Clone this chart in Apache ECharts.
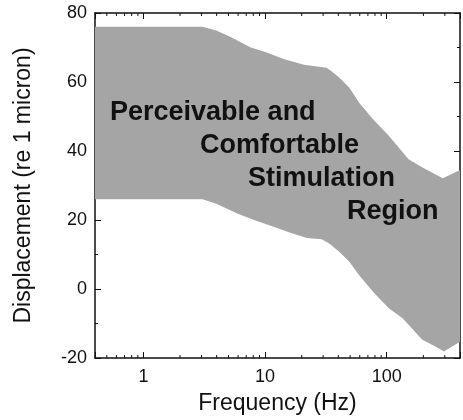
<!DOCTYPE html>
<html>
<head>
<meta charset="utf-8">
<script src="https://cdn.jsdelivr.net/npm/echarts@6/dist/echarts.min.js"></script>
<style>
html, body { margin: 0; padding: 0; background: #fff; }
#chartWrap { width: 463px; height: 420px; }
</style>
</head>
<body>
<div id="chartWrap"></div>
<script>
// 上边界 (Hz / displacement)
var upperFreq = [0.4, 3.06, 3.97, 5.26, 7.63, 9.9, 14.4, 20.9, 32, 35.2, 40.9, 49.3, 59.3, 77.1, 104, 151, 207, 289, 400];
var upperVals = [76, 76, 74.9, 73, 70, 68.8, 66.6, 65, 64.1, 63.1, 61.2, 58.3, 54.0, 49.2, 44.4, 37.6, 34.8, 32.1, 34.5];
// 下边界
var lowerFreq = [0.4, 3.06, 3.97, 5.98, 8.22, 11.9, 16.1, 22.1, 29.2, 33.9, 40.9, 49.3, 59.3, 77.1, 104, 135, 196, 249, 295, 400];
var lowerVals = [26, 26, 24.7, 21.8, 19.9, 18, 16.3, 14.8, 14.4, 13.1, 10.7, 7.9, 4.0, -0.8, -5.6, -8.5, -14.7, -16.6, -18.1, -15.3];
// x轴次刻度 (对数)
var minorFreqs = [0.5, 0.6, 0.7, 0.8, 0.9, 2, 3, 4, 5, 6, 7, 8, 9, 20, 30, 40, 50, 60, 70, 80, 90, 200, 300];
var annotation = ['Perceivable and', 'Comfortable', 'Stimulation', 'Region'];

var xMin = 0.4, xMax = 400, yMin = -20, yMax = 80;
var font = "'Liberation Sans', Arial, sans-serif";
var lineCol = '#111';

var myChart = echarts.init(document.getElementById('chartWrap'), null, { renderer: 'canvas' });

function isDecade(v) {
    var l = Math.log(v) / Math.LN10;
    return Math.abs(l - Math.round(l)) < 1e-6;
}

var xBase = {
    type: 'log', logBase: 10, min: xMin, max: xMax,
    axisLine: { show: true, onZero: false, lineStyle: { color: lineCol, width: 1.5 } },
    axisTick: { show: true, inside: true, length: 6, lineStyle: { color: lineCol } },
    splitLine: { show: false }
};
var yBase = {
    type: 'value', min: yMin, max: yMax, interval: 20,
    axisLine: { show: true, onZero: false, lineStyle: { color: lineCol, width: 1.5 } },
    axisTick: { show: true, inside: true, length: 6, lineStyle: { color: lineCol } },
    minorTick: { show: true, splitNumber: 2, length: 3, lineStyle: { color: lineCol } },
    splitLine: { show: false }
};

// 注释文字
var graphics = annotation.map(function (t, i) {
    var lefts = [110, 200, 248, 347];
    return {
        type: 'text', left: lefts[i], top: 99 + i * 33, z: 100,
        style: { text: t, font: 'bold 27px ' + font, fill: '#111' }
    };
});

var option = {
    animation: false,
    backgroundColor: '#fff',
    grid: { left: 95, right: 2, top: 13, bottom: 60, containLabel: false },
    xAxis: [
        $ext(xBase, {
            position: 'bottom',
            name: 'Frequency (Hz)', nameLocation: 'middle', nameGap: 34,
            nameTextStyle: { fontSize: 23, fontFamily: font, color: '#111' },
            axisLabel: {
                fontSize: 18, fontFamily: font, color: '#111', margin: 10,
                formatter: function (v) { return isDecade(v) ? String(Math.round(v)) : ''; }
            }
        }),
        $ext(xBase, { position: 'top', axisLabel: { show: false } })
    ],
    yAxis: [
        $ext(yBase, {
            position: 'left',
            name: 'Displacement (re 1 micron)', nameLocation: 'middle', nameGap: 60, nameRotate: 90,
            nameTextStyle: { fontSize: 23, fontFamily: font, color: '#111' },
            axisLabel: { fontSize: 18, fontFamily: font, color: '#111', margin: 8 }
        }),
        $ext(yBase, { position: 'right', axisLabel: { show: false } })
    ],
    graphic: graphics,
    series: [
        {
            // 灰色区域
            type: 'custom', xAxisIndex: 0, yAxisIndex: 0, z: 1,
            data: [[upperFreq[0], upperVals[0]]],
            renderItem: function (params, api) {
                var pts = [];
                for (var i = 0; i < upperFreq.length; i++) pts.push(api.coord([upperFreq[i], upperVals[i]]));
                for (var j = lowerFreq.length - 1; j >= 0; j--) pts.push(api.coord([lowerFreq[j], lowerVals[j]]));
                return { type: 'polygon', shape: { points: pts }, style: { fill: '#a5a5a5' } };
            }
        },
        {
            // x轴次刻度（上下）
            type: 'custom', xAxisIndex: 0, yAxisIndex: 0, z: 5,
            data: minorFreqs.map(function (f) { return [f, yMin]; }),
            renderItem: function (params, api) {
                var b = api.coord([api.value(0), yMin]);
                var t = api.coord([api.value(0), yMax]);
                var st = { stroke: lineCol, lineWidth: 1 };
                return {
                    type: 'group', children: [
                        { type: 'line', shape: { x1: b[0], y1: b[1], x2: b[0], y2: b[1] - 3 }, style: st },
                        { type: 'line', shape: { x1: t[0], y1: t[1], x2: t[0], y2: t[1] + 3 }, style: st }
                    ]
                };
            }
        }
    ]
};

function $ext(a, b) {
    return echarts.util.merge(echarts.util.clone(a), b, true);
}

myChart.setOption(option);
</script>
</body>
</html>
